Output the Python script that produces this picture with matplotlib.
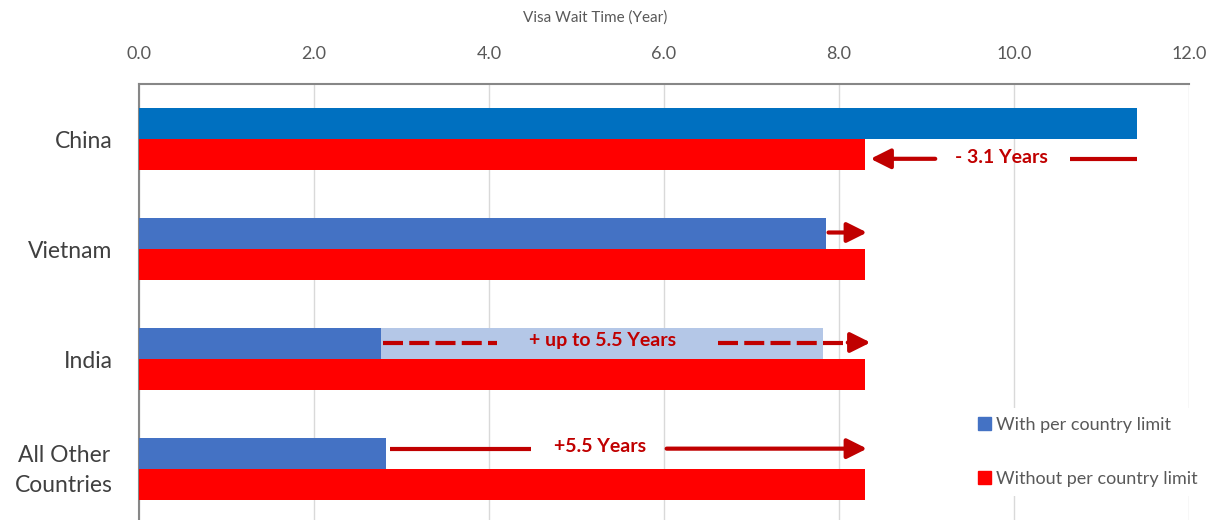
import numpy as np
import matplotlib
matplotlib.use("Agg")
from matplotlib import pyplot as plt
from matplotlib.patches import Patch
from matplotlib.transforms import ScaledTranslation

plt.rcParams['font.family'] = ['Lato', 'DejaVu Sans']

# data
countries = ["China", "Vietnam", "India", "All Other\nCountries"]
with_limit = [11.4, 7.85, 2.77, 2.82]
without_limit = [8.3, 8.3, 8.3, 8.3]
india_upto = 7.82  # light blue extension for India
xticks = [0.0, 2.0, 4.0, 6.0, 8.0, 10.0, 12.0]

blue_cols = ["#0070C0", "#4472C4", "#4472C4", "#4472C4"]
red = "#FF0000"
light_blue = "#B4C7E7"
dark_red = "#C00000"
gray = "#595959"

fig = plt.figure(figsize=(12.14, 5.2), dpi=100)
ax = fig.add_axes([139/1214, 1 - 524/520, (1189-139)/1214, (524-84)/520])

y = np.arange(len(countries))
h = 0.28
ax.barh(y - h/2, with_limit, height=h, color=blue_cols, zorder=3)
ax.barh(y + h/2, without_limit, height=h, color=red, zorder=3)
# india possible range
ax.barh(y[2] - h/2, india_upto - with_limit[2], left=with_limit[2], height=h,
        color=light_blue, zorder=3)

ax.set_xlim(0, 12)
ax.set_ylim(3.5, -0.5)
ax.xaxis.tick_top()
ax.set_xticks(xticks)
ax.set_xticklabels(["%.1f" % v for v in xticks], fontsize=13, color=gray)
ax.set_yticks(y)
ax.set_yticklabels(countries, fontsize=16.5, color="#404040", multialignment='center',
                   linespacing=1.5)
ax.tick_params(axis='x', length=0, pad=16)
ax.tick_params(axis='y', length=0, pad=19)
ax.grid(axis='x', color="#D9D9D9", lw=1, zorder=0)
for s in ['right', 'bottom']:
    ax.spines[s].set_visible(False)
for s in ['top', 'left']:
    ax.spines[s].set_color("#878787")
    ax.spines[s].set_linewidth(1.5)

# nudge the two-line label up a little
lab = ax.get_yticklabels()[3]
lab.set_transform(lab.get_transform() + ScaledTranslation(0, 5/100, fig.dpi_scale_trans))

fig.text(595/1214, 1 - 18/520, "Visa Wait Time (Year)", fontsize=11, color=gray,
         ha='center', va='center')

lw = 3
arrow_kw = dict(arrowstyle='-|>', color=dark_red, lw=lw, mutation_scale=30,
                shrinkA=0, shrinkB=0)
txt_kw = dict(color=dark_red, fontsize=14, fontweight='bold', ha='center', va='center',
              zorder=6)

# China: reduction
yc = y[0] + h/2 + 0.04
ax.plot([with_limit[0], 10.64], [yc, yc], color=dark_red, lw=lw, solid_capstyle='butt', zorder=5)
ax.annotate('', xy=(without_limit[0] + 0.06, yc), xytext=(9.10, yc),
            arrowprops=arrow_kw, zorder=5)
ax.text(9.86, yc - 0.01, "- 3.1 Years", **txt_kw)

# Vietnam: small shift
yv = y[1] - h/2 - 0.01
ax.annotate('', xy=(8.32, yv), xytext=(with_limit[1] + 0.03, yv),
            arrowprops=arrow_kw, zorder=5)

# India: dashed
yi = y[2] - h/2 - 0.01
ax.plot([with_limit[2] + 0.02, 4.09], [yi, yi], color=dark_red, lw=lw,
        ls=(0, (4.8, 1.5)), dash_capstyle='butt', zorder=5)
ax.plot([6.62, 8.05], [yi, yi], color=dark_red, lw=lw,
        ls=(0, (4.8, 1.5)), dash_capstyle='butt', zorder=5)
ax.annotate('', xy=(8.36, yi), xytext=(8.1, yi), arrowprops=arrow_kw, zorder=5)
ax.text(5.30, yi - 0.02, "+ up to 5.5 Years", **txt_kw)

# All other
yo = y[3] - h/2 - 0.045
ax.plot([with_limit[3] + 0.05, 4.48], [yo, yo], color=dark_red, lw=lw,
        solid_capstyle='butt', zorder=5)
ax.annotate('', xy=(8.32, yo), xytext=(6.03, yo), arrowprops=arrow_kw, zorder=5)
ax.text(5.27, yo - 0.02, "+5.5 Years", **txt_kw)

handles = [Patch(color="#4472C4", label="With per country limit"),
           Patch(color=red, label="Without per country limit")]
leg = fig.legend(handles=handles, loc='upper left', bbox_to_anchor=(960/1214, 1 - 399/520),
                 frameon=True, fontsize=13, handlelength=0.7, handleheight=0.7,
                 handletextpad=0.3, labelspacing=2.1, borderpad=0.5)
leg.get_frame().set_facecolor('white')
leg.get_frame().set_edgecolor('none')
leg.get_frame().set_alpha(1)
for t in leg.get_texts():
    t.set_color(gray)

fig.savefig("out.png", dpi=100)
